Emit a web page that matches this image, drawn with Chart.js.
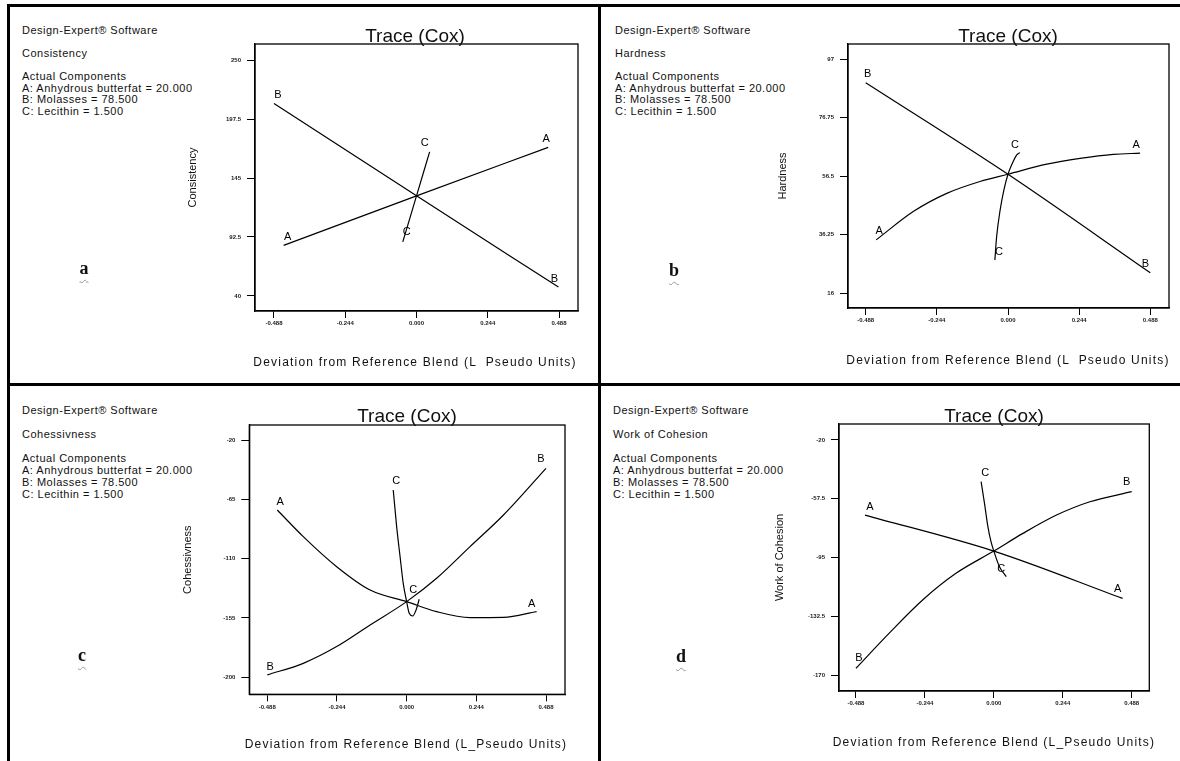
<!DOCTYPE html>
<html>
<head>
<meta charset="utf-8">
<script src="https://cdn.jsdelivr.net/npm/chart.js@4.4.0/dist/chart.umd.min.js"></script>
<style>
body{margin:0;width:1180px;height:761px;background:#fff;position:relative;overflow:hidden;font-family:"Liberation Sans",Arial,sans-serif;color:#111}
.rule{position:absolute;background:#000}
canvas{position:absolute}
.info{position:absolute;font-size:11px;line-height:11.5px;letter-spacing:0.5px;white-space:pre}
.ttl{position:absolute;font-size:19px;transform:translate(-50%,-50%);white-space:nowrap}
.xt{position:absolute;font-size:12px;letter-spacing:1.2px;transform:translate(-50%,-50%);white-space:pre}
.tag{position:absolute;font-family:"Liberation Serif",serif;font-weight:bold;font-size:18px;transform:translate(-50%,-50%);text-decoration:underline wavy #999 1px;text-underline-offset:5px}
</style>
</head>
<body>
<div class="rule" style="left:7px;top:4px;width:3px;height:757px"></div>
<div class="rule" style="left:7px;top:4px;width:1173px;height:3px"></div>
<div class="rule" style="left:598px;top:4px;width:3px;height:757px"></div>
<div class="rule" style="left:7px;top:383px;width:1173px;height:3px"></div>

<div class="info" style="left:22px;top:25px">Design-Expert® Software

Consistency

Actual Components
A: Anhydrous butterfat = 20.000
B: Molasses = 78.500
C: Lecithin = 1.500</div>
<div class="info" style="left:615px;top:25px">Design-Expert® Software

Hardness

Actual Components
A: Anhydrous butterfat = 20.000
B: Molasses = 78.500
C: Lecithin = 1.500</div>
<div class="info" style="left:22px;top:404px;line-height:12px">Design-Expert® Software

Cohessivness

Actual Components
A: Anhydrous butterfat = 20.000
B: Molasses = 78.500
C: Lecithin = 1.500</div>
<div class="info" style="left:613px;top:404px;line-height:12px">Design-Expert® Software

Work of Cohesion

Actual Components
A: Anhydrous butterfat = 20.000
B: Molasses = 78.500
C: Lecithin = 1.500</div>

<canvas id="cvA" width="587" height="376" style="left:11px;top:7px"></canvas>
<canvas id="cvB" width="578" height="376" style="left:602px;top:7px"></canvas>
<canvas id="cvC" width="587" height="375" style="left:11px;top:386px"></canvas>
<canvas id="cvD" width="578" height="375" style="left:602px;top:386px"></canvas>

<div class="ttl" style="left:415px;top:36px">Trace (Cox)</div>
<div class="ttl" style="left:1008px;top:36px">Trace (Cox)</div>
<div class="ttl" style="left:407px;top:416px">Trace (Cox)</div>
<div class="ttl" style="left:994px;top:416px">Trace (Cox)</div>

<div class="xt" style="left:415px;top:362px">Deviation from Reference Blend (L  Pseudo Units)</div>
<div class="xt" style="left:1008px;top:360px">Deviation from Reference Blend (L  Pseudo Units)</div>
<div class="xt" style="left:406px;top:744px">Deviation from Reference Blend (L_Pseudo Units)</div>
<div class="xt" style="left:994px;top:742px">Deviation from Reference Blend (L_Pseudo Units)</div>

<div class="tag" style="left:84px;top:268px">a</div>
<div class="tag" style="left:674px;top:270px">b</div>
<div class="tag" style="left:82px;top:655px">c</div>
<div class="tag" style="left:681px;top:656px">d</div>

<script>
"use strict";

// shared x axis (L_Pseudo units)
const xTicks = [-0.488, -0.244, 0, 0.244, 0.488];
const xTickLabels = ['-0.488', '-0.244', '0.000', '0.244', '0.488'];

// (a) Consistency
const consYTicks = [40, 92.5, 145, 197.5, 250];
const consYLabels = ['40', '92.5', '145', '197.5', '250'];
const consAx = [-0.455, 0, 0.451];
const consAy = [85.1, 129.1, 172.2];
const consBx = [-0.488, 0, 0.486];
const consBy = [211.4, 129.1, 48.0];
const consCx = [-0.047, 0, 0.045];
const consCy = [88.1, 129.1, 168.3];

// (b) Hardness
const hardYTicks = [16, 36.25, 56.5, 76.75, 97];
const hardYLabels = ['16', '36.25', '56.5', '76.75', '97'];
const hardAx = [-0.452, -0.325, -0.210, -0.096, 0, 0.133, 0.247, 0.361, 0.453];
const hardAy = [34.5, 44.3, 50.6, 54.7, 57.2, 60.7, 62.7, 64.1, 64.5];
const hardBx = [-0.488, 0, 0.488];
const hardBy = [88.9, 57.2, 23.1];
const hardCx = [-0.045, -0.039, -0.027, -0.014, 0, 0.015, 0.030, 0.041];
const hardCy = [27.5, 35.6, 44.8, 51.8, 57.2, 61.0, 63.9, 64.7];

// (c) Cohessivness
const cohYTicks = [-200, -155, -110, -65, -20];
const cohYLabels = ['-200', '-155', '-110', '-65', '-20'];
const cohAx = [-0.453, -0.362, -0.245, -0.128, 0, 0.105, 0.222, 0.339, 0.455];
const cohAy = [-73.1, -93.3, -116.1, -133.8, -142.6, -150.2, -154.7, -154.5, -150.2];
const cohBx = [-0.488, -0.362, -0.245, -0.128, 0, 0.105, 0.222, 0.339, 0.488];
const cohBy = [-198.2, -189.4, -176.7, -160.3, -142.6, -124.9, -100.9, -76.9, -41.5];
const cohCx = [-0.047, -0.035, -0.023, -0.012, 0, 0.009, 0.021, 0.033, 0.044];
const cohCy = [-57.9, -85.7, -108.5, -128.7, -142.6, -151.5, -153.5, -148.9, -140.8];

// (d) Work of Cohesion
const workYTicks = [-170, -132.5, -95, -57.5, -20];
const workYLabels = ['-170', '-132.5', '-95', '-57.5', '-20'];
const workAx = [-0.456, 0, 0.456];
const workAy = [-67.9, -90.9, -121.1];
const workBx = [-0.488, -0.371, -0.252, -0.134, 0, 0.103, 0.222, 0.340, 0.488];
const workBy = [-165.7, -143.4, -122.1, -105.1, -90.9, -79.6, -67.9, -59.4, -53.0];
const workCx = [-0.045, -0.033, -0.021, -0.010, 0, 0.020, 0.044];
const workCy = [-46.6, -60.4, -75.3, -84.9, -90.9, -100.9, -107.2];

// box around the plot area
const frame = {
	id: 'frame',
	afterDraw(chart) {
		const { ctx, chartArea: a } = chart;
		ctx.save();
		ctx.strokeStyle = '#000';
		ctx.lineWidth = 1.3;
		ctx.strokeRect(a.left, a.top, a.right - a.left, a.bottom - a.top);
		ctx.restore();
	}
};

// A / B / C letters at both ends of each trace
const endLabels = {
	id: 'endLabels',
	afterDatasetsDraw(chart) {
		const { ctx, scales: { x, y } } = chart;
		ctx.save();
		ctx.font = '11px "Liberation Sans", Arial, sans-serif';
		ctx.fillStyle = '#000';
		ctx.textAlign = 'center';
		ctx.textBaseline = 'middle';
		chart.data.datasets.forEach(ds => {
			const pts = ds.data;
			const ends = [[pts[0], ds.tagOffset[0]], [pts[pts.length - 1], ds.tagOffset[1]]];
			ends.forEach(([p, off]) => {
				ctx.fillText(ds.label, x.getPixelForValue(p.x) + off[0], y.getPixelForValue(p.y) + off[1]);
			});
		});
		ctx.restore();
	}
};

const panels = [
	{
		id: 'cvA', canvas: [11, 7, 587, 376], box: [255, 44, 578, 311],
		xMin: -0.553, xMax: 0.553, yMin: 26.65, yMax: 264.24,
		yTicks: consYTicks, yLabels: consYLabels, yTitle: 'Consistency', yTitleX: 193,
		series: [
			{ name: 'A', xs: consAx, ys: consAy, tags: [[4, -8], [-2, -8]] },
			{ name: 'B', xs: consBx, ys: consBy, tags: [[4, -8], [-4, -8]] },
			{ name: 'C', xs: consCx, ys: consCy, tags: [[4, -10], [-5, -9]] }
		]
	},
	{
		id: 'cvB', canvas: [602, 7, 578, 376], box: [848, 44, 1169, 308],
		xMin: -0.5487, xMax: 0.5521, yMin: 10.91, yMax: 102.3,
		yTicks: hardYTicks, yLabels: hardYLabels, yTitle: 'Hardness', yTitleX: 783,
		series: [
			{ name: 'A', xs: hardAx, ys: hardAy, tags: [[3, -9], [-4, -8]] },
			{ name: 'B', xs: hardBx, ys: hardBy, tags: [[2, -9], [-5, -9]] },
			{ name: 'C', xs: hardCx, ys: hardCy, tags: [[4, -8], [-5, -8]] }
		]
	},
	{
		id: 'cvC', canvas: [11, 386, 587, 375], box: [249.3, 425, 565, 694.3],
		xMin: -0.551, xMax: 0.5545, yMin: -212.9, yMax: -8.62,
		yTicks: cohYTicks, yLabels: cohYLabels, yTitle: 'Cohessivness', yTitleX: 188,
		series: [
			{ name: 'A', xs: cohAx, ys: cohAy, tags: [[3, -8], [-5, -8]] },
			{ name: 'B', xs: cohBx, ys: cohBy, tags: [[3, -8], [-5, -9]] },
			{ name: 'C', xs: cohCx, ys: cohCy, tags: [[3, -9], [-6, -9]] }
		]
	},
	{
		id: 'cvD', canvas: [602, 386, 578, 375], box: [839, 424, 1149.3, 691],
		xMin: -0.548, xMax: 0.5503, yMin: -180.2, yMax: -9.79,
		yTicks: workYTicks, yLabels: workYLabels, yTitle: 'Work of Cohesion', yTitleX: 780,
		series: [
			{ name: 'A', xs: workAx, ys: workAy, tags: [[5, -8], [-5, -9]] },
			{ name: 'B', xs: workBx, ys: workBy, tags: [[3, -10], [-5, -10]] },
			{ name: 'C', xs: workCx, ys: workCy, tags: [[4, -9], [-5, -8]] }
		]
	}
];

const tickFont = { family: '"Liberation Sans", Arial, sans-serif', size: 6, weight: 'bold' };

function drawPanel(p) {
	const [cx, cy, cw, ch] = p.canvas;
	const boxL = p.box[0] - cx, boxT = p.box[1] - cy, boxR = p.box[2] - cx, boxB = p.box[3] - cy;

	const datasets = p.series.map(s => ({
		label: s.name,
		data: s.xs.map((x, i) => ({ x: x, y: s.ys[i] })),
		tagOffset: s.tags,
		borderColor: '#000',
		borderWidth: 1.2,
		pointRadius: 0,
		fill: false,
		cubicInterpolationMode: 'monotone'
	}));

	new Chart(document.getElementById(p.id), {
		type: 'line',
		data: { datasets: datasets },
		options: {
			responsive: false,
			animation: false,
			devicePixelRatio: 1,
			layout: { padding: { left: 0, top: boxT, right: cw - boxR, bottom: 0 } },
			plugins: { legend: { display: false }, tooltip: { enabled: false } },
			scales: {
				x: {
					type: 'linear',
					min: p.xMin,
					max: p.xMax,
					afterFit: s => { s.height = ch - boxB; },
					afterBuildTicks: s => { s.ticks = xTicks.map(v => ({ value: v })); },
					ticks: {
						callback: (v, i) => xTickLabels[i],
						font: tickFont, color: '#222', padding: 2,
						maxRotation: 0, autoSkip: false
					},
					grid: { drawOnChartArea: false, drawTicks: true, tickLength: 7, color: '#000', lineWidth: 1 },
					border: { color: '#000', width: 1.3 }
				},
				y: {
					type: 'linear',
					min: p.yMin,
					max: p.yMax,
					afterFit: s => { s.width = boxL; },
					afterBuildTicks: s => { s.ticks = p.yTicks.map(v => ({ value: v })); },
					ticks: {
						callback: (v, i) => p.yLabels[i],
						font: tickFont, color: '#222', padding: 6, autoSkip: false
					},
					grid: { drawOnChartArea: false, drawTicks: true, tickLength: 8, color: '#000', lineWidth: 1 },
					border: { color: '#000', width: 1.3 },
					title: {
						display: true,
						text: p.yTitle,
						color: '#111',
						font: { family: '"Liberation Sans", Arial, sans-serif', size: 11 },
						padding: { top: p.yTitleX - cx - 6.6, bottom: 0 }
					}
				}
			}
		},
		plugins: [frame, endLabels]
	});
}

panels.forEach(drawPanel);
</script>
</body>
</html>
